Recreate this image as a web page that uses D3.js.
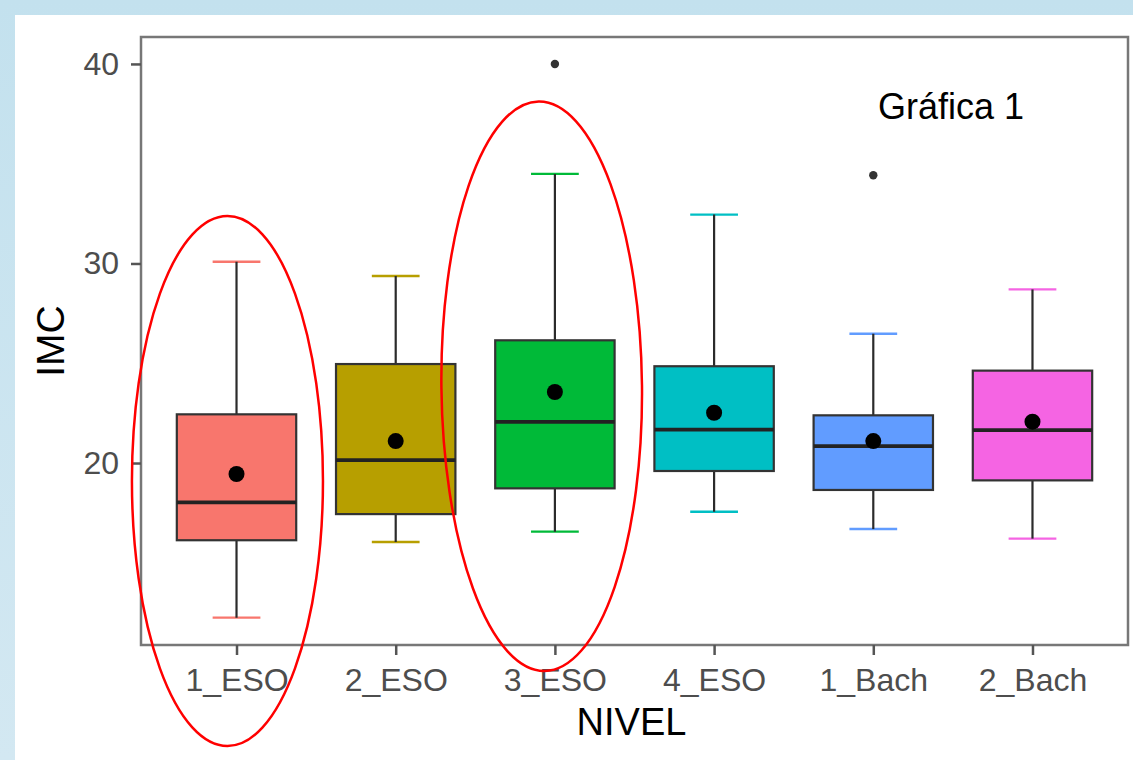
<!DOCTYPE html>
<html>
<head>
<meta charset="utf-8">
<script src="https://cdn.jsdelivr.net/npm/d3@7"></script>
<style>
  html, body { margin: 0; padding: 0; }
  body { width: 1133px; height: 760px; overflow: hidden;
         background: linear-gradient(#c3e1ee, #d3e8f2); }
  #chart { position: absolute; left: 15px; top: 15px; width: 1118px; height: 745px; background: #fff; }
  text { font-family: "Liberation Sans", Arial, Helvetica, sans-serif; }
</style>
</head>
<body>
<div id="chart"></div>
<script>
// Data (IMC by NIVEL)
var niveles = ["1_ESO", "2_ESO", "3_ESO", "4_ESO", "1_Bach", "2_Bach"];
var whiskerLow = [12.25, 16.04, 16.56, 17.56, 16.69, 16.21];
var q1 = [16.13, 17.44, 18.73, 19.60, 18.65, 19.13];
var medians = [18.03, 20.15, 22.06, 21.67, 20.85, 21.65];
var q3 = [22.44, 24.96, 26.15, 24.85, 22.39, 24.63];
var whiskerHigh = [30.09, 29.37, 34.49, 32.45, 26.48, 28.70];
var means = [19.45, 21.10, 23.56, 22.52, 21.10, 22.07];
var colors = ["#F8766D", "#B79F00", "#00BA38", "#00BFC4", "#619CFF", "#F564E3"];

// outliers: category + value
var outlierNivel = ["3_ESO", "1_Bach"];
var outlierValue = [40.0, 34.42];

var yTicks = [20, 30, 40];

// red highlight ellipses (category, centre value, half height in IMC, half width in steps, offset in steps)
var ellipseNivel = ["1_ESO", "3_ESO"];
var ellipseCenter = [19.10, 23.85];
var ellipseHalfHeight = [13.28, 14.27];
var ellipseHalfWidth = [0.60, 0.63];
var ellipseOffset = [-0.057, -0.083];
var ellipseTilt = [0, -0.6];

// svg sits inside the white card, so shift everything by -15
var svgWidth = 1118;
var svgHeight = 745;
var off = 15;

var panel = { left: 141 - off, right: 1128 - off, top: 37 - off, bottom: 645 - off };

var svg = d3.select("#chart")
  .append("svg")
  .attr("width", svgWidth)
  .attr("height", svgHeight);

// Scales
var x = d3.scalePoint()
  .domain(niveles)
  .range([panel.left, panel.right])
  .padding(0.6);

var y = d3.scaleLinear()
  .domain([10.88, 41.35])
  .range([panel.bottom, panel.top]);

var step = x.step();
var boxWidth = step * 0.75;
var capWidth = step * 0.3;

var boxes = niveles.map(function(n, i) {
  return { nivel: n, lo: whiskerLow[i], q1: q1[i], med: medians[i], q3: q3[i],
           hi: whiskerHigh[i], mean: means[i], color: colors[i] };
});

// Panel background
svg.append("rect")
  .attr("x", panel.left)
  .attr("y", panel.top)
  .attr("width", panel.right - panel.left)
  .attr("height", panel.bottom - panel.top)
  .attr("fill", "#fff");

var g = svg.append("g");

// Whisker caps (coloured like the boxes)
g.selectAll(".capHi")
  .data(boxes)
  .enter()
  .append("line")
  .attr("x1", d => x(d.nivel) - capWidth / 2)
  .attr("x2", d => x(d.nivel) + capWidth / 2)
  .attr("y1", d => y(d.hi))
  .attr("y2", d => y(d.hi))
  .attr("stroke", d => d.color)
  .attr("stroke-width", 2.4);

g.selectAll(".capLo")
  .data(boxes)
  .enter()
  .append("line")
  .attr("x1", d => x(d.nivel) - capWidth / 2)
  .attr("x2", d => x(d.nivel) + capWidth / 2)
  .attr("y1", d => y(d.lo))
  .attr("y2", d => y(d.lo))
  .attr("stroke", d => d.color)
  .attr("stroke-width", 2.4);

// Whisker stems
g.selectAll(".stem")
  .data(boxes)
  .enter()
  .append("line")
  .attr("x1", d => x(d.nivel))
  .attr("x2", d => x(d.nivel))
  .attr("y1", d => y(d.hi))
  .attr("y2", d => y(d.lo))
  .attr("stroke", "#2b2b2b")
  .attr("stroke-width", 2.2);

// Boxes
g.selectAll(".box")
  .data(boxes)
  .enter()
  .append("rect")
  .attr("x", d => x(d.nivel) - boxWidth / 2)
  .attr("y", d => y(d.q3))
  .attr("width", boxWidth)
  .attr("height", d => y(d.q1) - y(d.q3))
  .attr("fill", d => d.color)
  .attr("stroke", "#333")
  .attr("stroke-width", 2.2);

// Medians
g.selectAll(".median")
  .data(boxes)
  .enter()
  .append("line")
  .attr("x1", d => x(d.nivel) - boxWidth / 2)
  .attr("x2", d => x(d.nivel) + boxWidth / 2)
  .attr("y1", d => y(d.med))
  .attr("y2", d => y(d.med))
  .attr("stroke", "#222")
  .attr("stroke-width", 3.8);

// Means
g.selectAll(".mean")
  .data(boxes)
  .enter()
  .append("circle")
  .attr("cx", d => x(d.nivel))
  .attr("cy", d => y(d.mean))
  .attr("r", 8)
  .attr("fill", "#000");

// Outliers
g.selectAll(".outlier")
  .data(outlierNivel)
  .enter()
  .append("circle")
  .attr("cx", d => x(d))
  .attr("cy", (d, i) => y(outlierValue[i]))
  .attr("r", 4.2)
  .attr("fill", "#333");

// Panel border
svg.append("rect")
  .attr("x", panel.left)
  .attr("y", panel.top)
  .attr("width", panel.right - panel.left)
  .attr("height", panel.bottom - panel.top)
  .attr("fill", "none")
  .attr("stroke", "#777")
  .attr("stroke-width", 2.5);

// Axes
var yAxis = svg.append("g")
  .attr("transform", `translate(${panel.left}, 0)`)
  .call(d3.axisLeft(y).tickValues(yTicks).tickSize(10).tickPadding(12));

var xAxis = svg.append("g")
  .attr("transform", `translate(0, ${panel.bottom})`)
  .call(d3.axisBottom(x).tickSize(10).tickPadding(13));

[yAxis, xAxis].forEach(function(ax) {
  ax.select(".domain").remove();
  ax.selectAll(".tick line").attr("stroke", "#555").attr("stroke-width", 2.5);
  ax.selectAll(".tick text")
    .attr("fill", "#4d4d4d")
    .style("font-size", "32px")
    .style("font-family", "'Liberation Sans', Arial, sans-serif");
});

// Axis titles
svg.append("text")
  .attr("x", (panel.left + panel.right) / 2 - 3)
  .attr("y", 735 - off)
  .attr("text-anchor", "middle")
  .style("font-size", "38px")
  .attr("fill", "#000")
  .text("NIVEL");

svg.append("text")
  .attr("transform", `translate(${64 - off}, ${(panel.top + panel.bottom) / 2}) rotate(-90)`)
  .attr("text-anchor", "middle")
  .style("font-size", "39px")
  .attr("fill", "#000")
  .text("IMC");

// Annotation
svg.append("text")
  .attr("x", 878 - off)
  .attr("y", 119 - off)
  .style("font-size", "36px")
  .attr("fill", "#000")
  .text("Gráfica 1");

// Red highlight ellipses
svg.selectAll(".highlight")
  .data(ellipseNivel)
  .enter()
  .append("ellipse")
  .attr("transform", (d, i) => `translate(${x(d) + ellipseOffset[i] * step}, ${y(ellipseCenter[i])}) rotate(${ellipseTilt[i]})`)
  .attr("rx", (d, i) => ellipseHalfWidth[i] * step)
  .attr("ry", (d, i) => y(0) - y(ellipseHalfHeight[i]))
  .attr("fill", "none")
  .attr("stroke", "#ff0000")
  .attr("stroke-width", 2.5);
</script>
</body>
</html>
